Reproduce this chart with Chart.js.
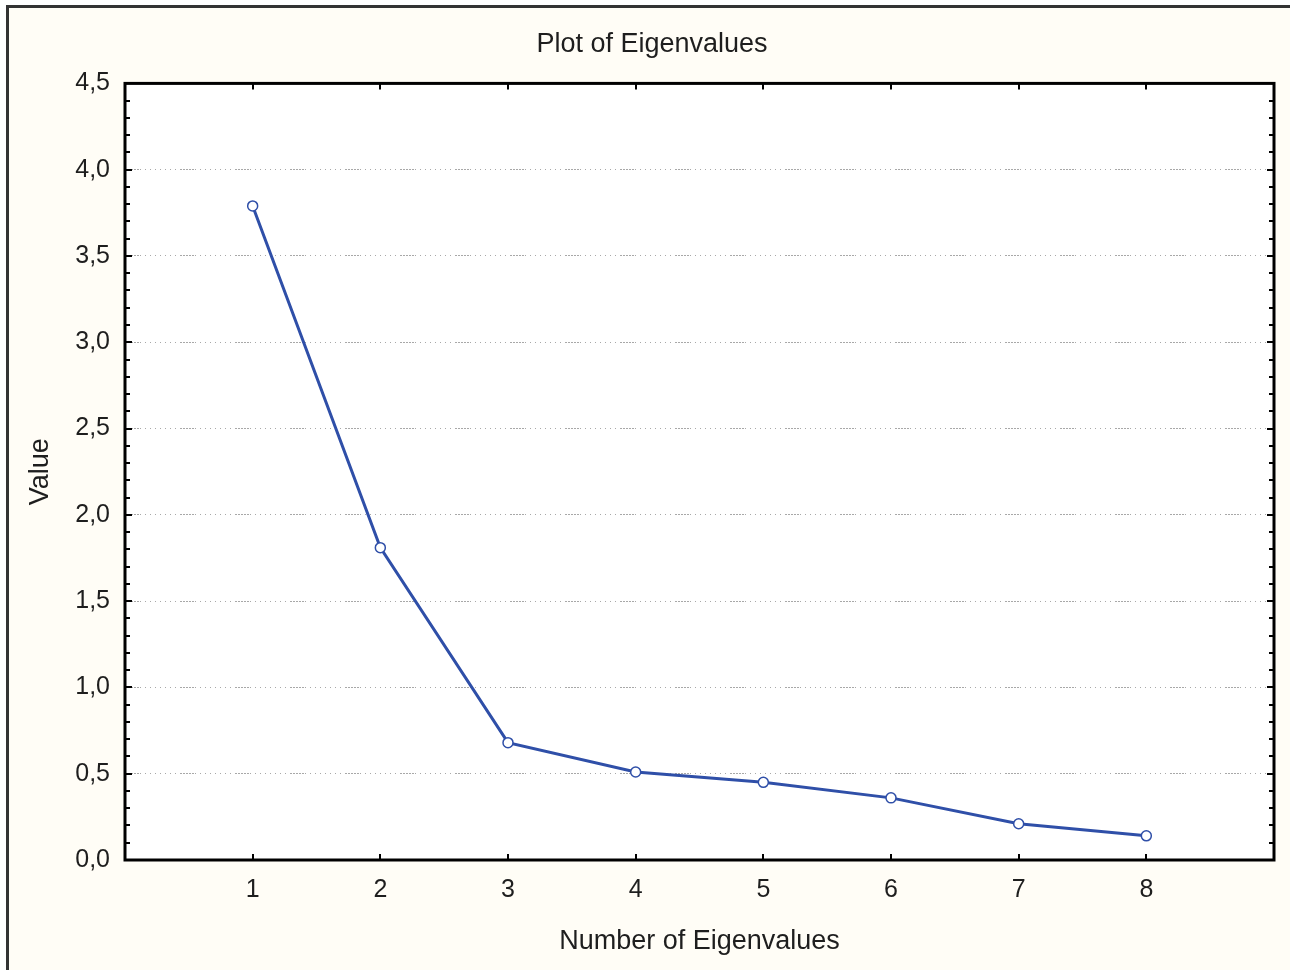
<!DOCTYPE html>
<html lang="en">
<head>
  <meta charset="UTF-8">
  <title>Plot of Eigenvalues</title>
  <script src="https://cdn.jsdelivr.net/npm/chart.js"></script>
  <style>
    body {
      margin: 0;
      background: #ffffff;
      overflow: hidden;
    }
    .frame {
      position: absolute;
      left: 6px;
      top: 5px;
      width: 1290px;
      height: 970px;
      border-left: 3px solid #333;
      border-top: 3px solid #333;
      background: #fffdf6;
    }
    .chart-container {
      position: absolute;
      left: 0;
      top: 0;
      width: 1290px;
      height: 970px;
    }
  </style>
</head>
<body>
  <div class="frame"></div>
  <div class="chart-container">
    <canvas id="eigenChart"></canvas>
  </div>

  <script>
    // eigenvalue number and value
    const eigenNumbers = [1, 2, 3, 4, 5, 6, 7, 8];
    const eigenValues = [3.79, 1.81, 0.68, 0.51, 0.45, 0.36, 0.21, 0.14];
    const yTicks = [0, 0.5, 1, 1.5, 2, 2.5, 3, 3.5, 4, 4.5];

    const lineColor = '#2f4fa8';
    const textColor = '#1e1e1e';
    const fontFamily = 'Liberation Sans, Arial, sans-serif';

    // white plot area, black frame and inward tick marks
    const framePlugin = {
      id: 'framePlugin',
      beforeDraw(chart) {
        const { ctx, chartArea: a } = chart;
        ctx.save();
        ctx.fillStyle = '#ffffff';
        ctx.fillRect(a.left, a.top, a.right - a.left, a.bottom - a.top);
        ctx.restore();
      },
      afterDraw(chart) {
        const { ctx, chartArea: a, scales } = chart;
        const x = scales.x, y = scales.y;
        ctx.save();
        ctx.strokeStyle = '#000';
        ctx.lineWidth = 2;
        ctx.beginPath();
        for (let i = 0; i <= 45; i++) {
          const py = Math.round(y.getPixelForValue(i / 10));
          const len = i % 5 === 0 ? 7 : 5;
          ctx.moveTo(a.left, py);
          ctx.lineTo(a.left + len, py);
          ctx.moveTo(a.right, py);
          ctx.lineTo(a.right - len, py);
        }
        eigenNumbers.forEach(n => {
          const px = Math.round(x.getPixelForValue(n));
          ctx.moveTo(px, a.bottom);
          ctx.lineTo(px, a.bottom - 6);
          ctx.moveTo(px, a.top);
          ctx.lineTo(px, a.top + 6);
        });
        ctx.stroke();
        ctx.lineWidth = 3;
        ctx.strokeRect(a.left, a.top, a.right - a.left, a.bottom - a.top);
        ctx.restore();
      }
    };

    const ctx = document.getElementById('eigenChart').getContext('2d');

    const eigenChart = new Chart(ctx, {
      type: 'line',
      data: {
        datasets: [{
          label: 'Eigenvalues',
          data: eigenNumbers.map((n, i) => ({ x: n, y: eigenValues[i] })),
          borderColor: lineColor,
          borderWidth: 3,
          backgroundColor: '#ffffff',
          pointBackgroundColor: '#ffffff',
          pointBorderColor: lineColor,
          pointBorderWidth: 1.5,
          pointRadius: 5,
          tension: 0
        }]
      },
      options: {
        responsive: true,
        maintainAspectRatio: false,
        animation: false,
        layout: {
          padding: { left: 30, right: 16, top: 0, bottom: 0 }
        },
        plugins: {
          legend: { display: false },
          tooltip: { enabled: false },
          title: {
            display: true,
            text: 'Plot of Eigenvalues',
            color: textColor,
            font: { family: fontFamily, size: 27, weight: 'normal' },
            padding: { top: 28, bottom: 23 }
          }
        },
        scales: {
          x: {
            type: 'linear',
            min: 0,
            max: 9,
            afterFit(scale) { scale.height = 110; },
            afterBuildTicks(scale) {
              scale.ticks = eigenNumbers.map(v => ({ value: v }));
            },
            ticks: {
              color: textColor,
              padding: 15,
              font: { family: fontFamily, size: 25 }
            },
            grid: { display: false, drawTicks: false },
            border: { display: false },
            title: {
              display: true,
              text: 'Number of Eigenvalues',
              color: textColor,
              font: { family: fontFamily, size: 27 },
              padding: { top: 0, bottom: 12 }
            }
          },
          y: {
            min: 0,
            max: 4.5,
            afterFit(scale) { scale.width = 95; },
            afterBuildTicks(scale) {
              scale.ticks = yTicks.map(v => ({ value: v }));
            },
            ticks: {
              color: textColor,
              padding: 15,
              font: { family: fontFamily, size: 25 },
              callback: v => v.toFixed(1).replace('.', ',')
            },
            grid: {
              color: '#a8a8a8',
              lineWidth: 1,
              drawTicks: false
            },
            border: {
              display: false,
              dash: [2, 1, 2, 1, 2, 1, 2, 1, 2, 1, 1, 4, 1, 4, 1, 4, 1, 4, 1, 4, 1, 4, 1, 4, 1, 4]
            },
            title: {
              display: true,
              text: 'Value',
              color: textColor,
              font: { family: fontFamily, size: 27, lineHeight: 0.6 },
              padding: { top: 2, bottom: 0 }
            }
          }
        }
      },
      plugins: [framePlugin]
    });
  </script>
</body>
</html>
